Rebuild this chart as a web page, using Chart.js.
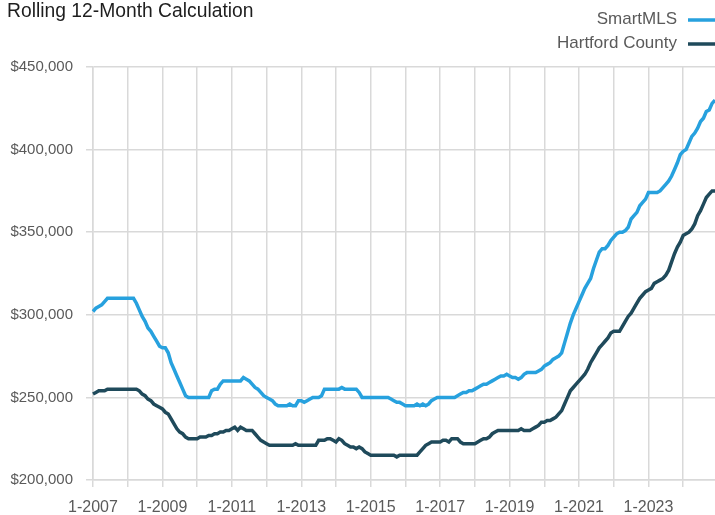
<!DOCTYPE html>
<html>
<head>
<meta charset="utf-8">
<script src="https://cdn.jsdelivr.net/npm/chart.js@4.4.1/dist/chart.umd.min.js"></script>
<style>
  html, body { margin: 0; padding: 0; background: #ffffff; }
  #wrap { width: 715px; height: 515px; position: relative; }
</style>
</head>
<body>
<div id="wrap"><canvas id="c" width="715" height="515"></canvas></div>
<script>
// ---- Data ----
const titleText = "Rolling 12-Month Calculation";
const seriesNames = ["SmartMLS", "Hartford County"];
const years = [2007, 2008, 2009, 2010, 2011, 2012, 2013, 2014, 2015, 2016, 2017, 2018, 2019, 2020, 2021, 2022, 2023, 2024];
const monthNums = [1, 2, 3, 4, 5, 6, 7, 8, 9, 10, 11, 12];

// SmartMLS median sales price, rolling 12 months (one row per year, Jan..Dec)
const smartMLS = [
  302000,304000,305000,306000,308000,310000,310000,310000,310000,310000,310000,310000,
  310000,310000,310000,307000,303000,299000,296000,292000,290000,287000,284000,281000,
  280000,280000,277000,271000,267000,263000,259000,255000,251000,250000,250000,250000,
  250000,250000,250000,250000,250000,254000,255000,255000,258000,260000,260000,260000,
  260000,260000,260000,260000,262000,261000,260000,258000,256000,255000,253000,251000,
  250000,249000,248000,246000,245000,245000,245000,245000,246000,245000,245000,248000,
  248000,247000,248000,249000,250000,250000,250000,251000,255000,255000,255000,255000,
  255000,255000,256000,255000,255000,255000,255000,255000,253000,250000,250000,250000,
  250000,250000,250000,250000,250000,250000,250000,249000,248000,247000,247000,246000,
  245000,245000,245000,245000,246000,245000,246000,245000,246000,248000,249000,250000,
  250000,250000,250000,250000,250000,250000,251000,252000,253000,253000,254000,254000,
  255000,256000,257000,258000,258000,259000,260000,261000,262000,263000,263000,264000,
  263000,262000,262000,261000,262000,264000,265000,265000,265000,265000,266000,267000,
  269000,270000,271000,273000,274000,275000,277000,283000,289000,295000,300000,304000,
  308000,312000,316000,319000,322000,328000,333000,338000,340000,340000,342000,345000,
  347000,349000,350000,350000,351000,353000,358000,360000,362000,366000,368000,370000,
  374000,374000,374000,374000,375000,377000,379000,381000,384000,388000,392000,397000,
  399000,400000,404000,408000,410000,413000,417000,419000,423000,424000,428000,430000
];

// Hartford County median sales price, rolling 12 months
const hartford = [
  252000,253000,254000,254000,254000,255000,255000,255000,255000,255000,255000,255000,
  255000,255000,255000,255000,254000,252000,251000,249000,248000,246000,245000,244000,
  243000,241000,240000,237000,234000,231000,229000,228000,226000,225000,225000,225000,
  225000,226000,226000,226000,227000,227000,228000,228000,229000,229000,230000,230000,
  231000,232000,230000,232000,231000,230000,230000,230000,228000,226000,224000,223000,
  222000,221000,221000,221000,221000,221000,221000,221000,221000,221000,222000,221000,
  221000,221000,221000,221000,221000,221000,224000,224000,224000,225000,225000,224000,
  223000,225000,224000,222000,221000,220000,220000,219000,220000,219000,217000,216000,
  215000,215000,215000,215000,215000,215000,215000,215000,215000,214000,215000,215000,
  215000,215000,215000,215000,215000,217000,219000,221000,222000,223000,223000,223000,
  223000,224000,224000,223000,225000,225000,225000,223000,222000,222000,222000,222000,
  222000,223000,224000,225000,225000,226000,228000,229000,230000,230000,230000,230000,
  230000,230000,230000,230000,231000,230000,230000,230000,231000,232000,233000,235000,
  235000,236000,236000,237000,238000,240000,242000,246000,250000,254000,256000,258000,
  260000,262000,264000,267000,271000,274000,277000,280000,282000,284000,286000,289000,
  290000,290000,290000,293000,296000,299000,301000,304000,307000,310000,312000,314000,
  315000,316000,319000,320000,321000,322000,324000,327000,332000,337000,341000,344000,
  348000,349000,350000,352000,355000,360000,363000,367000,371000,373000,375000,375000
];

const yMin = 200000, yMax = 450000, yStep = 50000;

// Category labels "M-YYYY"
const categories = [];
years.forEach(y => monthNums.forEach(m => categories.push(m + "-" + y)));

const colors = ["#27a1de", "#1f4a5b"];
const FONT = '"Liberation Sans", Arial, sans-serif';
const gridColor = "#d9d9d9";
const tickColor = "#5a5a5a";

// Custom title + legend (legend text right-aligned, swatch on the right)
const headerPlugin = {
  id: "header",
  afterDraw(chart) {
    const ctx = chart.ctx;
    ctx.save();
    ctx.fillStyle = "#1e1e1e";
    ctx.font = "19.3px " + FONT;
    ctx.textAlign = "left";
    ctx.textBaseline = "middle";
    ctx.fillText(titleText, 7, 12);
    const right = chart.width;
    chart.data.datasets.forEach((ds, i) => {
      const y = 19 + i * 24;
      ctx.font = "17px " + FONT;
      ctx.fillStyle = tickColor;
      ctx.textAlign = "right";
      ctx.fillText(ds.label, right - 38, y);
      ctx.strokeStyle = ds.borderColor;
      ctx.lineWidth = 3.5;
      ctx.beginPath();
      ctx.moveTo(right - 27, y + 1);
      ctx.lineTo(right, y + 1);
      ctx.stroke();
    });
    ctx.restore();
  }
};

new Chart(document.getElementById("c"), {
  type: "line",
  data: {
    labels: categories,
    datasets: [
      { label: seriesNames[0], data: smartMLS, borderColor: colors[0], backgroundColor: colors[0],
        borderWidth: 3.5, pointRadius: 0, tension: 0, fill: false },
      { label: seriesNames[1], data: hartford, borderColor: colors[1], backgroundColor: colors[1],
        borderWidth: 3.5, pointRadius: 0, tension: 0, fill: false }
    ]
  },
  options: {
    responsive: false,
    animation: false,
    devicePixelRatio: 1,
    layout: { padding: { top: 67, left: 0, right: 0, bottom: 0 } },
    plugins: {
      legend: { display: false },
      title: { display: false },
      tooltip: { enabled: false }
    },
    scales: {
      x: {
        type: "category",
        offset: false,
        afterFit: s => { s.height = 35; },
        grid: { color: gridColor, lineWidth: 1.5, drawTicks: true, tickLength: 7 },
        border: { color: gridColor, width: 1.5 },
        ticks: {
          autoSkip: false, maxRotation: 0, minRotation: 0,
          color: tickColor, font: { family: FONT, size: 16 }, padding: 11,
          callback: function (val, i) {
            if (i % 12 !== 0) return null;
            return (i % 24 === 0) ? this.getLabelForValue(val) : "";
          }
        }
      },
      y: {
        min: yMin, max: yMax,
        afterFit: s => { s.width = 93; },
        grid: { color: gridColor, lineWidth: 1.5, drawTicks: true, tickLength: 7 },
        border: { color: gridColor, width: 1.5 },
        ticks: {
          stepSize: yStep, color: tickColor, font: { family: FONT, size: 15 }, padding: 13,
          callback: v => "$" + Number(v).toLocaleString("en-US")
        }
      }
    }
  },
  plugins: [headerPlugin]
});
</script>
</body>
</html>
